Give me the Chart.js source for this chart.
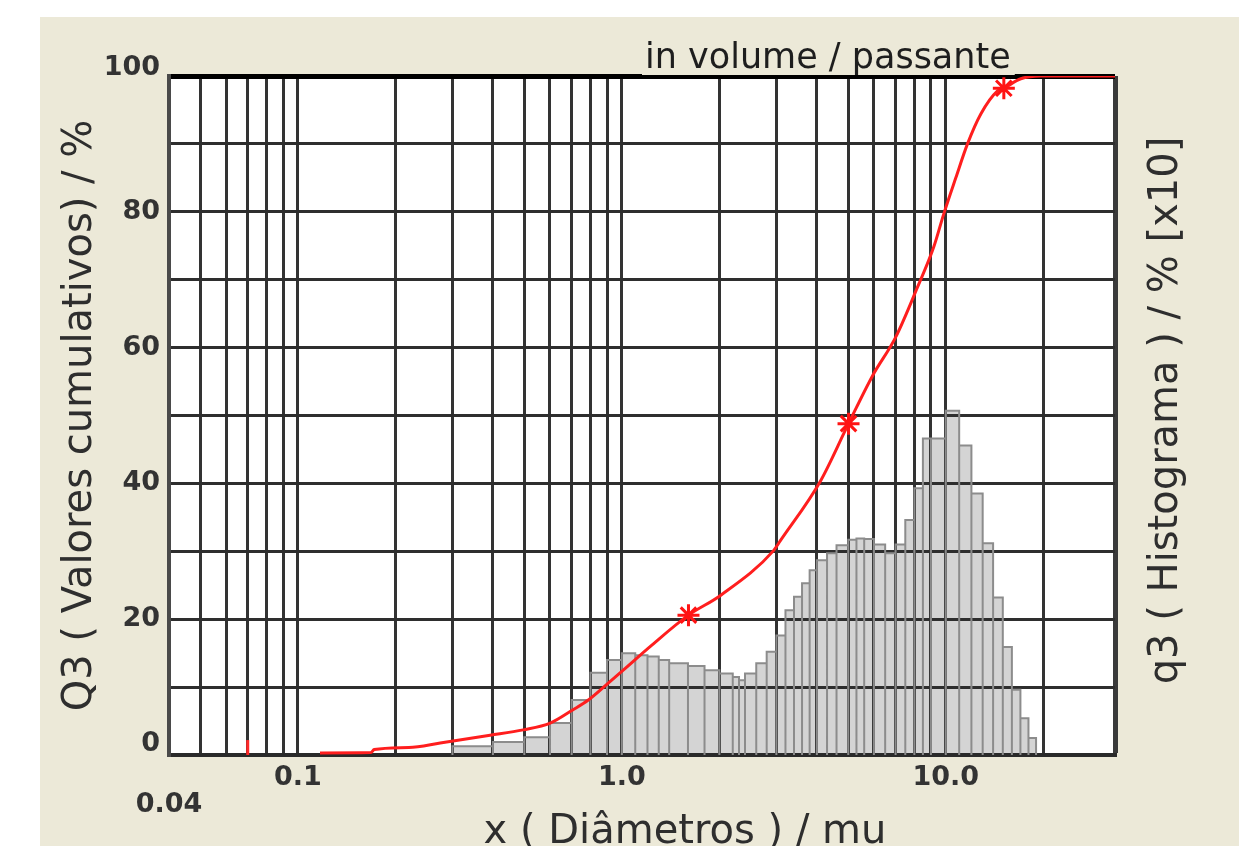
<!DOCTYPE html>
<html>
<head>
<meta charset="utf-8">
<title>Distribuição granulométrica</title>
<script src="https://cdn.jsdelivr.net/npm/chart.js@4.4.1/dist/chart.umd.min.js"></script>
<style>
  html, body { margin: 0; padding: 0; background: #ffffff; }
  #panel { position: absolute; left: 40px; top: 17px; width: 1199px; height: 829px; background: #ece9d8; overflow: hidden; }
  #plotBg { position: absolute; background: #ffffff; }
  #panel canvas { position: absolute; left: 0; top: 0; }
</style>
</head>
<body>
<div id="panel">
  <div id="plotBg"></div>
  <canvas id="psd" width="1199" height="829" style="width:1199px;height:829px"></canvas>
</div>
<script>
// ---- Histogram classes (diameter edges, mu) and q3 per class (%) ----
const binEdges = [0.3, 0.4, 0.5, 0.6, 0.7, 0.8, 0.9, 1.0, 1.1, 1.2, 1.3, 1.4, 1.6, 1.8, 2.0,
                  2.2, 2.3, 2.4, 2.6, 2.8, 3.0, 3.2, 3.4, 3.6, 3.8, 4.0, 4.3, 4.6, 5.0, 5.3,
                  5.6, 6.0, 6.5, 7.0, 7.5, 8.0, 8.5, 9.0, 10, 11, 12, 13, 14, 15, 16, 17, 18, 19];
const q3Hist = [0.13, 0.19, 0.26, 0.47, 0.81, 1.21, 1.40, 1.50, 1.47, 1.45, 1.40, 1.35, 1.31, 1.25,
                1.20, 1.15, 1.10, 1.20, 1.35, 1.52, 1.76, 2.13, 2.33, 2.53, 2.72, 2.87, 2.97, 3.09,
                3.17, 3.19, 3.18, 3.10, 2.97, 3.10, 3.46, 3.93, 4.66, 4.66, 5.07, 4.56, 3.85, 3.12,
                2.32, 1.59, 0.96, 0.54, 0.25];

// ---- Cumulative curve Q3 (%) ----
const cumDiam = [0.117, 0.168, 0.172, 0.22, 0.275, 0.392, 0.496, 0.601, 0.703, 0.788, 0.908, 1.01,
                 1.225, 1.606, 2.016, 2.94, 3.09, 4.11, 5.01, 5.95, 7.0, 8.18, 9.18, 9.86, 10.74,
                 11.67, 12.83, 14.45, 15.11, 17.05, 19.67, 33.3];
const cumQ3 = [0.3, 0.35, 0.8, 1.1, 1.76, 2.9, 3.7, 4.7, 6.6, 8.1, 10.6, 12.5,
               16.0, 20.6, 23.5, 30.1, 31.6, 40.4, 48.8, 55.9, 61.5, 68.9, 74.8, 79.7, 85.0,
               90.0, 94.4, 97.8, 98.2, 99.6, 100, 100];

// marked points on the cumulative curve
const markDiam = [1.606, 5.01, 15.11];
const markQ3 = [20.6, 48.8, 98.2];

// first cumulative step near the lower size limit
const startDiam = [0.07, 0.07];
const startQ3 = [0, 2.2];

// ---- Axes ----
const xMin = 0.04, xMax = 33.3;
const xGridValues = [0.04, 0.05, 0.06, 0.07, 0.08, 0.09,
                     0.1, 0.2, 0.3, 0.4, 0.5, 0.6, 0.7, 0.8, 0.9,
                     1, 2, 3, 4, 5, 6, 7, 8, 9,
                     10, 20];
const xLabelValues = [0.04, 0.1, 1, 10];
const xLabelTexts = ['0.04', '0.1', '1.0', '10.0'];
const yLabelValues = [0, 20, 40, 60, 80, 100];

const leftTitle = 'Q3 ( Valores cumulativos) / %';
const rightTitle = 'q3 ( Histograma ) / % [x10]';
const bottomTitle = 'x ( Diâmetros ) / mu';
const topCaption = 'in volume / passante';

const FONT = 'DejaVu Sans';
const PANEL = '#ece9d8';

function sameValue(a, b) { return Math.abs(a - b) <= 1e-9 * Math.max(1, Math.abs(b)); }
function xLabelIndex(v) { return xLabelValues.findIndex(t => sameValue(v, t)); }

// each class drawn as a closed column outline
const histPoints = [];
q3Hist.forEach((v, i) => {
  const lo = binEdges[i], hi = binEdges[i + 1];
  histPoints.push({x: lo, y: 0}, {x: lo, y: v}, {x: hi, y: v}, {x: hi, y: 0});
});

const sideTexts = {
  id: 'sideTexts',
  afterLayout(chart) {
    const a = chart.chartArea;
    const bg = document.getElementById('plotBg');
    bg.style.left = a.left + 'px';
    bg.style.top = a.top + 'px';
    bg.style.width = (a.right - a.left) + 'px';
    bg.style.height = (a.bottom - a.top) + 'px';
  },
  afterDraw(chart) {
    const {ctx, chartArea: a} = chart;
    ctx.save();
    // caption sitting on the upper frame
    ctx.font = '35px "' + FONT + '"';
    const w = ctx.measureText(topCaption).width;
    const tx = a.left + 476;
    ctx.fillStyle = PANEL;
    ctx.fillRect(tx - 3, a.top - 38, w + 7, 37);
    ctx.fillStyle = '#1e1e1e';
    ctx.textAlign = 'left';
    ctx.textBaseline = 'alphabetic';
    ctx.fillText(topCaption, tx, a.top - 8);
    // diameter axis title
    ctx.font = '40px "' + FONT + '"';
    ctx.fillStyle = '#2e2e2e';
    ctx.textAlign = 'center';
    ctx.fillText(bottomTitle, a.left + 516, a.bottom + 88);
    // histogram axis title, read bottom to top
    ctx.translate(a.right + 52, (a.top + a.bottom) / 2 - 5);
    ctx.rotate(-Math.PI / 2);
    ctx.textBaseline = 'middle';
    ctx.fillText(rightTitle, 0, 0);
    ctx.restore();
  }
};

new Chart(document.getElementById('psd'), {
  type: 'line',
  data: {
    datasets: [
      {
        label: 'Q3 start',
        data: startDiam.map((d, i) => ({x: d, y: startQ3[i]})),
        yAxisID: 'y',
        borderColor: 'rgb(255,40,40)',
        borderWidth: 3,
        pointRadius: 0,
        fill: false,
        order: 1
      },
      {
        label: 'Q3',
        data: cumDiam.map((d, i) => ({x: d, y: cumQ3[i]})),
        yAxisID: 'y',
        borderColor: 'rgb(255,30,30)',
        borderWidth: 3,
        pointRadius: 0,
        cubicInterpolationMode: 'monotone',
        fill: false,
        order: 1
      },
      {
        label: 'Q3 marks',
        data: markDiam.map((d, i) => ({x: d, y: markQ3[i]})),
        yAxisID: 'y',
        showLine: false,
        pointStyle: 'star',
        pointRadius: 11,
        pointBorderWidth: 3,
        pointBorderColor: 'rgb(255,20,20)',
        pointBackgroundColor: 'rgb(255,20,20)',
        fill: false,
        order: 0
      },
      {
        label: 'q3',
        data: histPoints,
        yAxisID: 'yHist',
        borderColor: '#8c8c8c',
        borderWidth: 2,
        backgroundColor: '#d4d4d4',
        pointRadius: 0,
        tension: 0,
        fill: 'origin',
        order: 3
      }
    ]
  },
  options: {
    responsive: false,
    animation: false,
    devicePixelRatio: 1,
    events: [],
    layout: { padding: { top: 59, right: 124, bottom: 0, left: 0 } },
    plugins: {
      legend: { display: false },
      tooltip: { enabled: false },
      filler: { drawTime: 'beforeDraw' }
    },
    scales: {
      x: {
        type: 'logarithmic',
        position: 'bottom',
        min: xMin,
        max: xMax,
        afterBuildTicks(axis) {
          axis.ticks = xGridValues.concat([xMax]).map(v => ({value: v}));
        },
        afterFit(axis) { axis.height = 91; },
        ticks: {
          autoSkip: false,
          maxRotation: 0,
          minRotation: 0,
          padding: 7,
          color: '#333333',
          font: (c) => ({
            family: FONT, size: 27, weight: 'bold',
            lineHeight: (c.tick && sameValue(c.tick.value, xLabelValues[0])) ? 1.05 : 1.15
          }),
          callback(value) {
            const i = xLabelIndex(value);
            if (i < 0) return '';
            return i === 0 ? ['', xLabelTexts[i]] : xLabelTexts[i];
          }
        },
        grid: {
          drawTicks: false,
          color: (c) => (c.tick && c.tick.value >= xMax) ? '#3a3a3a' : '#333333',
          lineWidth: (c) => (c.tick && c.tick.value >= xMax) ? 5 : 3
        },
        border: { display: true, color: '#2a2a2a', width: 4 }
      },
      y: {
        type: 'linear',
        position: 'left',
        min: 0,
        max: 100,
        afterFit(axis) { axis.width = 129; },
        ticks: {
          stepSize: 10,
          padding: 9,
          color: '#333333',
          font: (c) => {
            let lh = 1.2;
            if (c.tick && c.tick.value === 100) lh = 0.63;
            if (c.tick && c.tick.value === 0) lh = 0.82;
            return {family: FONT, size: 27, weight: 'bold', lineHeight: lh};
          },
          callback(value) {
            if (!yLabelValues.includes(value)) return '';
            return (value === 0 || value === 100) ? [String(value), ''] : String(value);
          }
        },
        grid: {
          drawTicks: false,
          color: (c) => (c.tick && c.tick.value === 100) ? '#000000' : '#2e2e2e',
          lineWidth: (c) => (c.tick && c.tick.value === 100) ? 5 : 3
        },
        border: { display: true, color: '#4a4a4a', width: 4 },
        title: {
          display: true,
          text: leftTitle,
          color: '#2e2e2e',
          font: { family: FONT, size: 40, weight: 'normal' },
          padding: { top: 17, bottom: 0 }
        }
      },
      yHist: {
        type: 'linear',
        position: 'right',
        display: false,
        min: 0,
        max: 10
      }
    }
  },
  plugins: [sideTexts]
});
</script>
</body>
</html>
